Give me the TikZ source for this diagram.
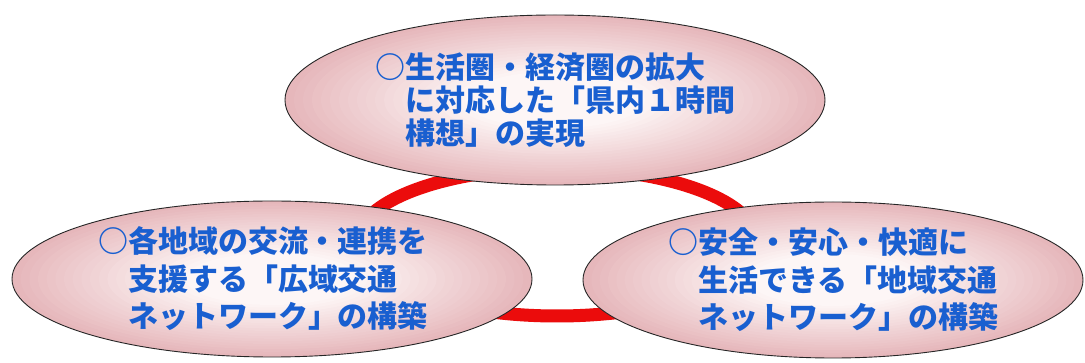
\documentclass[tikz,border=0pt]{standalone}
\usepackage{fontspec}
\newfontfamily\jp{Noto Sans CJK JP}
\usetikzlibrary{shapes.geometric}
\definecolor{txtblue}{RGB}{25,95,208}
\definecolor{ringred}{RGB}{235,12,12}
\definecolor{pinkout}{RGB}{230,183,187}
\definecolor{pinkin}{RGB}{253,246,246}
\newcommand\glowfill[3]{%
  \foreach \i in {0,...,29}{%
    \pgfmathsetmacro\gs{1-\i/30}%
    \pgfmathsetmacro\gp{min(100,5*\i)}%
    \fill[pinkin!\gp!pinkout] (#1) ellipse [x radius={\gs*#2pt}, y radius={\gs*#3pt}];
  }}
\begin{document}
\begin{tikzpicture}[x=1pt,y=-1pt,
  bubble/.style={ellipse, draw=black!85, line width=0.9pt, inner sep=0pt,
    align=left, text=txtblue,
    font=\jp\bfseries\fontsize{30}{37.5}\selectfont},
  ringline/.style={draw=ringred, line width=13pt}]
\useasboundingbox (0,0) rectangle (1085,363);
\fill[white] (0,0) rectangle (1085,363);
\coordinate (ringc) at (557,242);
\coordinate (ctop) at (555,100);
\coordinate (cleft) at (272,279);
\coordinate (cright) at (833,280);
\draw[ringline] (ringc) ellipse [x radius=200pt, y radius=74pt];
\glowfill{ctop}{270}{85}
\glowfill{cleft}{260}{78}
\glowfill{cright}{250}{78}
\node[bubble, minimum width=540pt, minimum height=170pt,
  font=\jp\bfseries\fontsize{30}{33}\selectfont] (top) at (ctop)
  {○生活圏・経済圏の拡大\hspace*{10pt}\\\hspace*{1em}に対応した「県内１時間\hspace*{10pt}\\\hspace*{1em}構想」の実現};
\node[bubble, minimum width=520pt, minimum height=156pt] (left) at (cleft)
  {○各地域の交流・連携を\hspace*{18pt}\\\hspace*{1em}支援する「広域交通\\\hspace*{1em}ネットワーク」の構築};
\node[bubble, minimum width=500pt, minimum height=156pt] (right) at (cright)
  {○安全・安心・快適に\\\hspace*{1em}生活できる「地域交通\\\hspace*{1em}ネットワーク」の構築};
\end{tikzpicture}
\end{document}
